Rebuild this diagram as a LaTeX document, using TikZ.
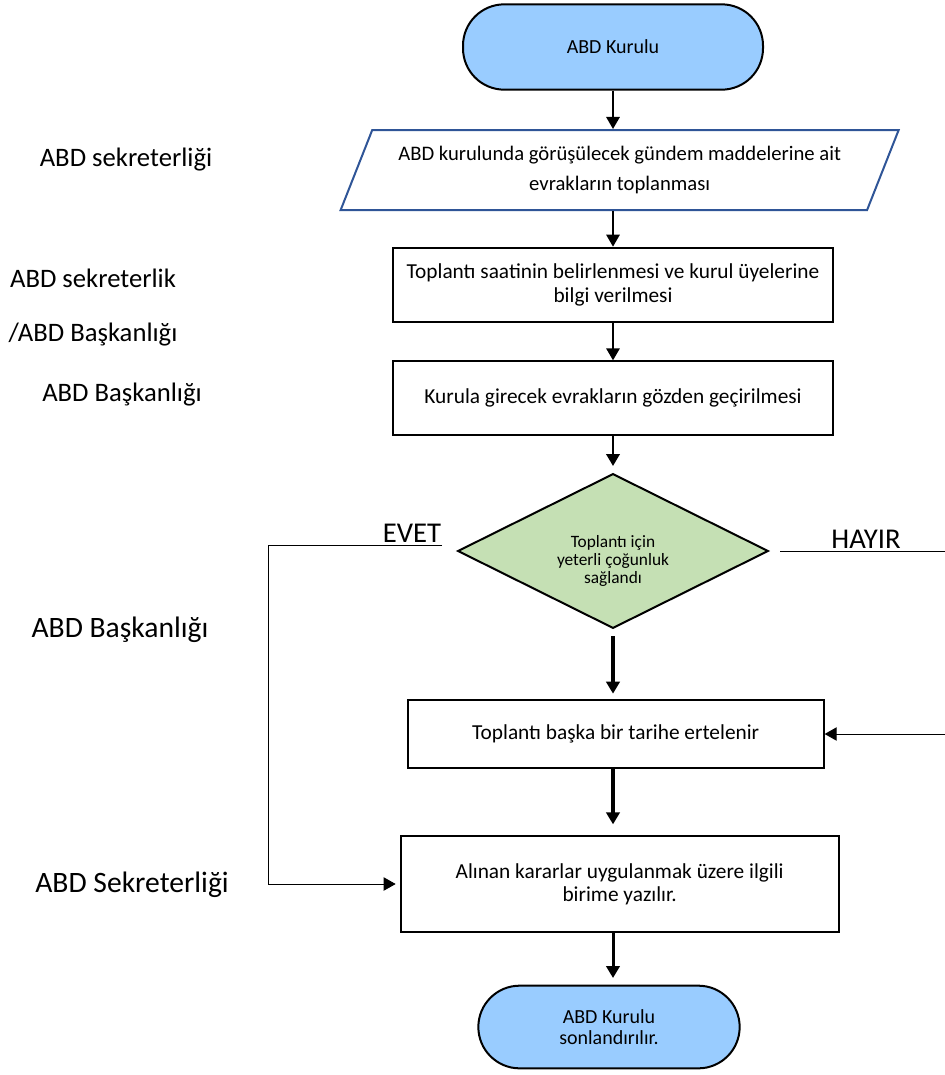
\documentclass[tikz,border=0pt]{standalone}
\usepackage{fontspec}
\setmainfont{Carlito}
\usetikzlibrary{arrows.meta,shapes.geometric,positioning}
\definecolor{termblue}{RGB}{153,204,255}
\definecolor{decgreen}{RGB}{197,224,180}
\definecolor{paraedge}{RGB}{47,85,151}

\begin{document}
\begin{tikzpicture}[->,>={Triangle[length=9pt,width=10pt]},x=0.75pt,y=-0.75pt]
    \tikzstyle{every node}=[font=\fontsize{16}{17.5}\selectfont]
    \tikzstyle{term}=[rectangle,draw=black,line width=1.5pt,fill=termblue,rounded corners=31pt,align=center,font=\fontsize{15}{15.5}\selectfont]
    \tikzstyle{io}=[trapezium,trapezium left angle=63,trapezium right angle=117,trapezium stretches=true,draw=paraedge,line width=1.5pt,minimum width=420pt,minimum height=60pt,align=center,font=\fontsize{15.5}{22.5}\selectfont]
    \tikzstyle{process}=[rectangle,draw=black,line width=1.5pt,align=center]
    \tikzstyle{decision}=[diamond,aspect=2,draw=black,line width=1.5pt,fill=decgreen,inner sep=0pt,minimum width=233pt,minimum height=116pt,align=center,font=\fontsize{13}{13.5}\selectfont]
    \tikzstyle{lane}=[font=\fontsize{20}{22}\selectfont]
    \tikzstyle{answer}=[font=\fontsize{21.5}{24}\selectfont,anchor=base]

    \useasboundingbox (0,0) rectangle (945,1075);

    % main column
    \node[term,minimum width=225pt,minimum height=64pt] (s0) at (613,47) {ABD Kurulu};
    \node[io,xshift=5pt] (s1) [below of=s0,node distance=92.25pt] {ABD kurulunda görüşülecek gündem maddelerine ait\\evrakların toplanması};
    \node[process,minimum width=330pt,minimum height=56pt] (s2) [below of=s0,node distance=178.5pt] {Toplantı saatinin belirlenmesi ve kurul üyelerine\\bilgi verilmesi};
    \node[process,minimum width=330pt,minimum height=55pt] (s3) [below of=s2,node distance=84.75pt] {Kurula girecek evrakların gözden geçirilmesi};
    \node[decision] (s4) [below of=s3,node distance=114.75pt] {\rule{0pt}{24pt}Toplantı için\\yeterli çoğunluk\\sağlandı};
    \node[process,minimum width=312pt,minimum height=51pt,xshift=2pt] (s5) [below of=s4,node distance=137.25pt] {Toplantı başka bir tarihe ertelenir};
    \node[process,minimum width=328.5pt,minimum height=72pt,xshift=3pt] (s6) [below of=s5,node distance=112.5pt] {Alınan kararlar uygulanmak üzere ilgili\\birime yazılır.};
    \node[term,minimum width=196pt,minimum height=62pt,xshift=-8pt] (s7) [below of=s6,node distance=107.25pt] {ABD Kurulu\\sonlandırılır.};

    \draw[line width=1.5pt] (s0) -- (s0 |- s1.north);
    \draw[line width=1.5pt] (s2 |- s1.south) -- (s2);
    \draw[line width=1.5pt] (s2) -- (s3);
    \draw[line width=2pt,shorten >=5pt] (s3) -- (s4);
    \draw[line width=3pt,shorten <=5pt,shorten >=4pt] (s4) -- (s4 |- s5.north);
    \draw[line width=3pt,shorten >=8pt] (s4 |- s5.south) -- (s4 |- s6.north);
    \draw[line width=2.25pt,shorten >=5pt] (s4 |- s6.south) -- (s4 |- s7.north);

    % branches
    \coordinate (yes) at (442,545);
    \coordinate (no) at (780,551);
    \draw[line width=0.75pt,shorten >=3pt] (yes) -- (268,545) |- (s6.west);
    \draw[line width=0.75pt] (no) -- (948,551) |- (s5.east);
    \node[answer] (evet) at (412,542) {EVET};
    \node[answer] (hayir) at (866,548) {HAYIR};

    % responsible units
    \node[lane] (l1) at (126,160) {ABD sekreterliği};
    \node[lane] (l2) at (93,278) {ABD sekreterlik};
    \node[lane] (l3) at (93,335) {/ABD Başkanlığı};
    \node[lane] (l4) at (122,395) {ABD Başkanlığı};
    \node[lane,font=\fontsize{22.2}{24}\selectfont] (l5) at (120,630) {ABD Başkanlığı};
    \node[lane,font=\fontsize{22.2}{24}\selectfont] (l6) at (132,885) {ABD Sekreterliği};
\end{tikzpicture}
\end{document}
